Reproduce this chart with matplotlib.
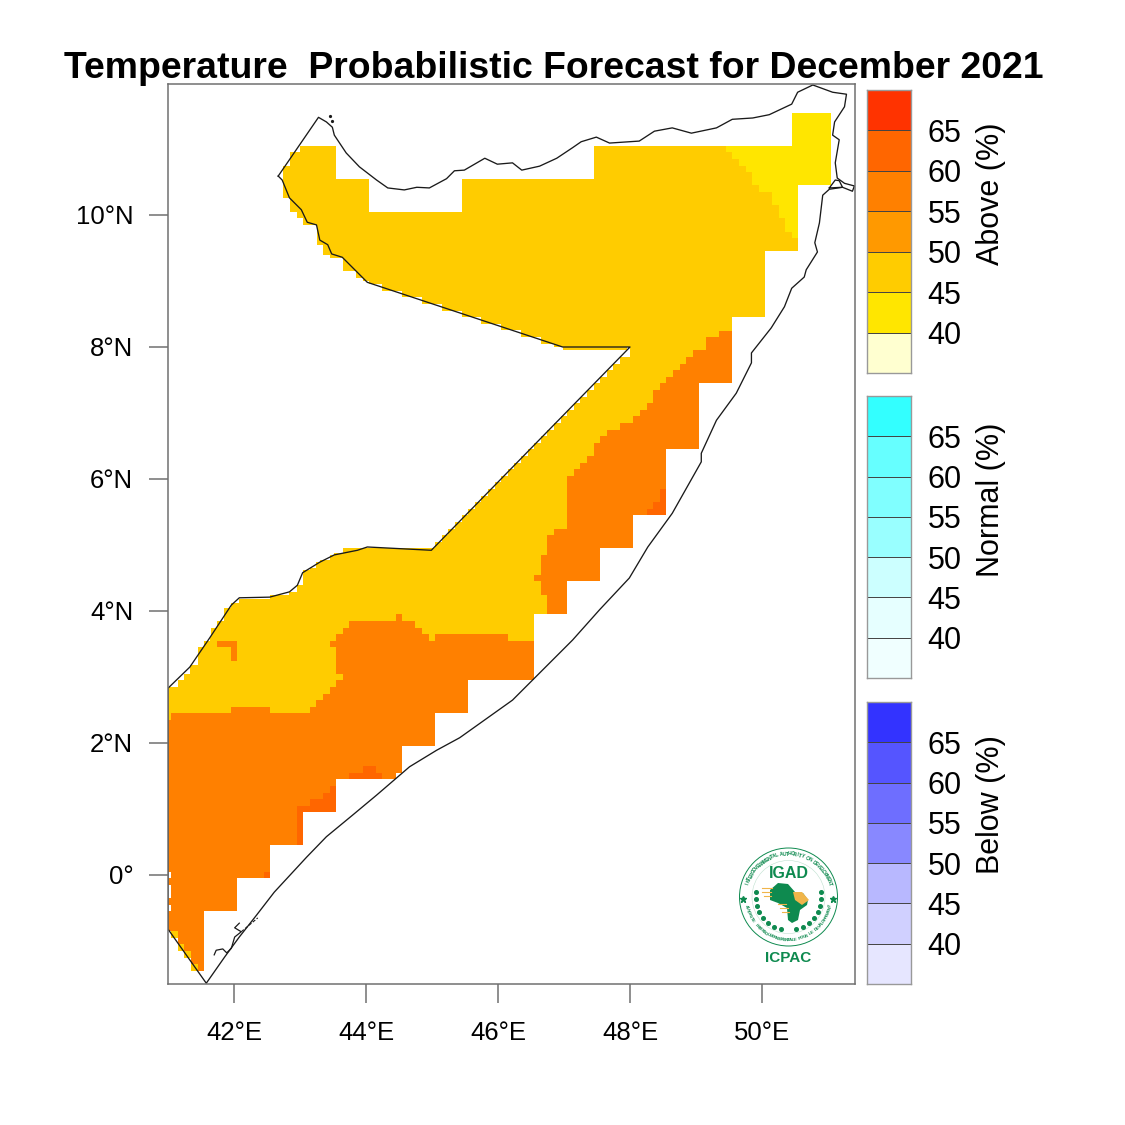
import numpy as np
import matplotlib
matplotlib.use("Agg")
import matplotlib.pyplot as plt
from matplotlib.patches import Circle, Polygon

plt.rcParams["font.family"] = ["Liberation Sans", "DejaVu Sans"]

# somalia outline
outline_lon = [42.67, 43.28, 43.40, 43.49, 43.52, 43.70, 43.90, 44.16, 44.33, 44.58, 44.77, 44.96, 45.22, 45.34,
               45.49, 45.80, 45.99, 46.22, 46.36, 46.63, 46.89, 47.13, 47.26, 47.49, 47.69, 48.14, 48.37, 48.64,
               48.93, 49.31, 49.55, 49.86, 50.11, 50.45, 50.54, 50.77, 51.07, 51.28, 51.25, 51.10, 51.07, 51.17,
               51.11, 51.14, 51.25, 51.40, 51.37, 51.22, 51.02, 50.92, 50.87, 50.80, 50.84, 50.67, 50.64, 50.45,
               50.34, 50.14, 49.84, 49.84, 49.61, 49.31, 49.08, 49.08, 48.64, 48.27, 47.99, 47.54, 47.13, 46.52,
               46.22, 45.42, 45.07, 44.66, 44.16, 43.80, 43.40, 43.10, 42.61, 42.34, 42.08, 41.86, 41.58, 41.0,
               41.0, 41.33, 41.63, 41.96, 42.08, 42.54, 42.84, 42.96, 43.04, 43.30, 43.52, 43.87, 44.02, 44.99,
               48.0, 46.98, 44.02, 43.64, 43.48, 43.42, 43.30, 43.25, 43.11, 43.02, 42.84, 42.73, 42.67]
outline_lat = [10.59, 11.48, 11.41, 11.33, 11.21, 10.94, 10.73, 10.53, 10.41, 10.38, 10.42, 10.41, 10.55, 10.67,
               10.68, 10.86, 10.77, 10.79, 10.68, 10.74, 10.86, 11.02, 11.11, 11.18, 11.09, 11.12, 11.27, 11.32,
               11.24, 11.32, 11.45, 11.47, 11.52, 11.68, 11.86, 11.97, 11.86, 11.83, 11.64, 11.41, 11.21, 11.14,
               10.79, 10.56, 10.48, 10.44, 10.36, 10.42, 10.39, 10.30, 9.88, 9.58, 9.44, 9.17, 9.06, 8.89,
               8.61, 8.29, 7.91, 7.76, 7.30, 6.89, 6.39, 6.26, 5.48, 4.97, 4.50, 4.02, 3.56, 2.95,
               2.65, 2.08, 1.89, 1.64, 1.21, 0.91, 0.58, 0.27, -0.26, -0.61, -0.94, -1.24, -1.64, -0.82,
               2.83, 3.15, 3.59, 4.09, 4.20, 4.21, 4.29, 4.39, 4.58, 4.74, 4.85, 4.92, 4.97, 4.92,
               8.0, 8.0, 8.98, 9.36, 9.41, 9.55, 9.62, 9.85, 9.89, 10.08, 10.26, 10.53, 10.59]
lagoon_lon = [51.02, 51.11, 51.17, 51.22, 51.02]
lagoon_lat = [10.41, 10.53, 10.52, 10.42, 10.41]
islets_lon = [41.70, 41.73, 41.83, 41.89, 41.96, 42.01, 42.11, 42.01, 42.08]
islets_lat = [-1.21, -1.14, -1.12, -1.18, -1.11, -0.94, -0.86, -0.80, -0.73]
reef_lon = [42.11, 42.36]
reef_lat = [-0.86, -0.65]
dots_lon = [43.46, 43.48]
dots_lat = [11.50, 11.42]

# the forecast cells share this southern edge
south_edge_lon = [46.55, 45.55, 45.55, 45.05, 45.05, 44.55, 44.55, 44.45, 44.45, 43.55, 43.55, 43.05, 43.05, 42.55,
                  42.55, 42.05, 42.05, 41.55, 41.55, 41.45, 41.05, 41.0,
                  41.0, 41.05, 41.05, 41.0, 41.0, 41.05, 41.05, 41.0, 41.0, 41.05, 41.05, 41.0]
south_edge_lat = [2.95, 2.95, 2.45, 2.45, 1.95, 1.95, 1.55, 1.55, 1.45, 1.45, 0.95, 0.95, 0.45, 0.45,
                  -0.05, -0.05, -0.55, -0.55, -1.45, -1.45, -0.85, -0.85,
                  -0.55, -0.55, -0.45, -0.45, -0.35, -0.35, -0.15, -0.15, -0.05, -0.05, 0.05, 0.05]

# 45-50 % class, whole area with values
amber_lon = [43.0, 43.55, 43.55, 44.05, 44.05, 45.45, 45.45, 47.45, 47.45, 50.45, 50.45, 51.05, 51.05, 50.55, 50.55,
             50.05, 50.05, 49.55, 49.55, 49.05, 49.05, 48.55, 48.55, 48.05, 48.05, 47.55, 47.55, 47.05, 47.05, 46.55,
             46.55] + south_edge_lon + [41.0, 41.33, 41.63, 41.96, 42.08, 42.46, 42.84, 42.96, 43.04, 43.30, 43.52,
             43.87, 44.05, 44.99, 48.0, 47.55, 46.98, 46.98, 44.05, 43.95, 43.85, 43.65, 43.65, 43.45, 43.26,
             43.26, 43.05, 42.95, 42.85, 42.75, 42.75, 42.85, 42.85, 43.0]
amber_lat = [11.05, 11.05, 10.55, 10.55, 10.05, 10.05, 10.55, 10.55, 11.05, 11.05, 11.55, 11.55, 10.45, 10.45, 9.45,
             9.45, 8.45, 8.45, 7.45, 7.45, 6.45, 6.45, 5.45, 5.45, 4.95, 4.95, 4.45, 4.45, 3.95, 3.95,
             2.95] + south_edge_lat + [2.85, 3.18, 3.62, 4.12, 4.18, 4.18, 4.29, 4.39, 4.62, 4.78, 4.88,
             4.95, 4.95, 4.95, 8.0, 7.95, 7.95, 8.0, 9.0, 9.05, 9.15, 9.25, 9.35, 9.4, 9.65,
             9.85, 9.85, 10.05, 10.15, 10.35, 10.75, 10.75, 10.95, 10.95]

# 40-45 % class in the north east
yellow_lon = [49.45, 50.45, 50.45, 51.05, 51.05, 50.55, 50.55, 50.45, 50.45, 50.35, 50.35, 50.25, 50.25, 50.15, 50.15,
              49.95, 49.95, 49.85, 49.85, 49.75, 49.75, 49.65, 49.65, 49.55, 49.55, 49.45]
yellow_lat = [11.05, 11.05, 11.55, 11.55, 10.45, 10.45, 9.65, 9.65, 9.75, 9.75, 9.95, 9.95, 10.15, 10.15, 10.35,
              10.35, 10.45, 10.45, 10.65, 10.65, 10.75, 10.75, 10.85, 10.85, 10.95, 10.95]

# 55-60 % class
orange_ne_lon = [49.55, 49.35, 49.35, 49.15, 49.15, 48.95, 48.95, 48.85, 48.85, 48.75, 48.75, 48.65, 48.65, 48.55, 48.55,
                 48.45, 48.45, 48.35, 48.35, 48.25, 48.25, 48.15, 48.15, 48.05, 48.05, 47.85, 47.85, 47.65, 47.65, 47.55,
                 47.55, 47.45, 47.45, 47.35, 47.35, 47.25, 47.25, 47.15, 47.15, 47.05, 47.05, 46.85, 46.85, 46.75, 46.75,
                 46.65, 46.65, 46.55, 46.55, 46.65, 46.65, 46.75, 46.75, 47.05, 47.05, 47.55, 47.55, 48.05, 48.05, 48.55,
                 48.55, 49.05, 49.05, 49.55]
orange_ne_lat = [8.25, 8.25, 8.15, 8.15, 7.95, 7.95, 7.85, 7.85, 7.75, 7.75, 7.65, 7.65, 7.55, 7.55, 7.45,
                 7.45, 7.35, 7.35, 7.15, 7.15, 7.05, 7.05, 6.95, 6.95, 6.85, 6.85, 6.75, 6.75, 6.65, 6.65,
                 6.55, 6.55, 6.35, 6.35, 6.25, 6.25, 6.15, 6.15, 6.05, 6.05, 5.25, 5.25, 5.15, 5.15, 4.85,
                 4.85, 4.55, 4.55, 4.45, 4.45, 4.25, 4.25, 3.95, 3.95, 4.45, 4.45, 4.95, 4.95, 5.45, 5.45,
                 6.45, 6.45, 7.45, 7.45]
orange_s_lon = [46.55, 46.15, 46.15, 45.05, 45.05, 44.95, 44.95, 44.85, 44.85, 44.75, 44.75, 44.55, 44.55, 44.45, 44.45,
                43.75, 43.75, 43.65, 43.65, 43.55, 43.55, 43.45, 43.45, 43.55, 43.55, 43.65, 43.65, 43.55, 43.55, 43.45,
                43.45, 43.35, 43.35, 43.25, 43.25, 43.15, 43.15, 42.55, 42.55, 41.95, 41.95, 41.05, 41.05,
                41.0] + south_edge_lon[::-1]
orange_s_lat = [3.55, 3.55, 3.65, 3.65, 3.55, 3.55, 3.65, 3.65, 3.75, 3.75, 3.85, 3.85, 3.95, 3.95, 3.85,
                3.85, 3.75, 3.75, 3.65, 3.65, 3.55, 3.55, 3.45, 3.45, 3.05, 3.05, 2.95, 2.95, 2.85, 2.85,
                2.75, 2.75, 2.65, 2.65, 2.55, 2.55, 2.45, 2.45, 2.55, 2.55, 2.45, 2.45, 2.35,
                2.35] + south_edge_lat[::-1]
orange_spot_lon = [41.75, 42.05, 42.05, 41.95, 41.95, 41.75]
orange_spot_lat = [3.55, 3.55, 3.25, 3.25, 3.45, 3.45]

# 60-65 % class, small patches
deep_a_lon = [48.45, 48.55, 48.55, 48.25, 48.25, 48.35, 48.35, 48.45]
deep_a_lat = [5.85, 5.85, 5.45, 5.45, 5.55, 5.55, 5.65, 5.65]
deep_b_lon = [43.75, 43.95, 43.95, 44.15, 44.15, 44.25, 44.25, 43.75]
deep_b_lat = [1.55, 1.55, 1.65, 1.65, 1.55, 1.55, 1.45, 1.45]
deep_c_lon = [43.45, 43.55, 43.55, 43.05, 43.05, 42.95, 42.95, 43.15, 43.15, 43.35, 43.35, 43.45]
deep_c_lat = [1.35, 1.35, 0.95, 0.95, 0.45, 0.45, 1.05, 1.05, 1.15, 1.15, 1.25, 1.25]
deep_d_lon = [42.45, 42.55, 42.55, 42.45]
deep_d_lat = [0.05, 0.05, -0.05, -0.05]

# colour bars
bar_levels = [35, 40, 45, 50, 55, 60, 65]
above_colors = ["#FFFFD0", "#FFE600", "#FFCC00", "#FF9900", "#FF8000", "#FF6600", "#FF3300"]
normal_colors = ["#F0FFFF", "#E6FFFF", "#CCFFFF", "#99FFFF", "#80FFFF", "#66FFFF", "#33FFFF"]
below_colors = ["#E6E6FF", "#D0D0FF", "#B8B8FF", "#8888FF", "#6E6EFF", "#5555FF", "#3333FF"]
bar_ticks = [40, 45, 50, 55, 60, 65]

lon_ticks = [42, 44, 46, 48, 50]
lat_ticks = [0, 2, 4, 6, 8, 10]
lon_labels = ["42°E", "44°E", "46°E", "48°E", "50°E"]
lat_labels = ["0°", "2°N", "4°N", "6°N", "8°N", "10°N"]

AMBER = "#FFCC00"
YELLOW = "#FFE600"
ORANGE = "#FF8000"
DEEP = "#FF6600"
GRAY = "#707070"
GREEN = "#0E8A4F"
S = 1125.0


def stairs(lon, lat):
    # the grid is 0.1 degree, so slanted edges of a polygon come out as steps
    xs, ys = [lon[0]], [lat[0]]
    for i in range(1, len(lon)):
        dx = lon[i] - lon[i - 1]
        dy = lat[i] - lat[i - 1]
        if abs(dx) > 0.001 and abs(dy) > 0.001:
            n = int(max(round(abs(dx) / 0.1), round(abs(dy) / 0.1), 1))
            for k in range(1, n):
                x = np.round((lon[i - 1] + dx * k / n - 0.05) / 0.1) * 0.1 + 0.05
                y = np.round((lat[i - 1] + dy * k / n - 0.05) / 0.1) * 0.1 + 0.05
                xs += [x, x]
                ys += [ys[-1], y]
            xs += [lon[i]]
            ys += [ys[-1]]
        xs.append(lon[i])
        ys.append(lat[i])
    return xs, ys


def axes_px(x0, y0, x1, y1):
    return fig.add_axes([x0 / S, 1 - y1 / S, (x1 - x0) / S, (y1 - y0) / S])


fig = plt.figure(figsize=(11.25, 11.25), dpi=100)
ax = axes_px(168, 84, 855, 984)

for lon, lat, col in [(amber_lon, amber_lat, AMBER), (yellow_lon, yellow_lat, YELLOW),
                      (orange_ne_lon, orange_ne_lat, ORANGE), (orange_s_lon, orange_s_lat, ORANGE),
                      (orange_spot_lon, orange_spot_lat, ORANGE), (deep_a_lon, deep_a_lat, DEEP),
                      (deep_b_lon, deep_b_lat, DEEP), (deep_c_lon, deep_c_lat, DEEP), (deep_d_lon, deep_d_lat, DEEP)]:
    xs, ys = stairs(lon, lat)
    ax.fill(xs, ys, color=col, lw=0)

ax.plot(outline_lon, outline_lat, color="#1A1A1A", lw=0.95)
ax.plot(lagoon_lon, lagoon_lat, color="#1A1A1A", lw=0.95)
ax.plot(islets_lon, islets_lat, color="#1A1A1A", lw=0.9)
ax.plot(reef_lon, reef_lat, color="#1A1A1A", lw=0.8, ls=(0, (3, 1.5)))
ax.plot(dots_lon, dots_lat, ls="none", marker="o", ms=1.3, color="#1A1A1A")

ax.set_xlim(41.0, 41.0 + 687 / 66)
ax.set_ylim(-109 / 66, 791 / 66)
ax.set_xticks(lon_ticks)
ax.set_xticklabels(lon_labels)
ax.set_yticks(lat_ticks)
ax.set_yticklabels(lat_labels)
ax.tick_params(length=13.5, width=1.1, color=GRAY, labelsize=18.5)
ax.tick_params(axis="x", pad=13.5)
ax.tick_params(axis="y", pad=11.5)
for sp in ax.spines.values():
    sp.set_color(GRAY)
    sp.set_linewidth(1.1)

# colour bars on the right
bars = [(90, 373, above_colors, "Above (%)", 194), (396, 678, normal_colors, "Normal (%)", 500),
        (702, 984, below_colors, "Below (%)", 805)]
for top, bottom, colors, name, name_y in bars:
    cax = axes_px(867, top, 911, bottom)
    cax.bar([0] * len(colors), [5] * len(colors), bottom=bar_levels, width=1, color=colors,
            edgecolor="#444444", linewidth=0.7)
    cax.set_xlim(-0.5, 0.5)
    cax.set_ylim(35, 70)
    cax.set_xticks([])
    cax.yaxis.tick_right()
    cax.set_yticks(bar_ticks)
    cax.set_yticklabels([str(t) for t in bar_ticks])
    cax.tick_params(length=0, labelsize=22, pad=12)
    for sp in cax.spines.values():
        sp.set_color("#999999")
        sp.set_linewidth(1.0)
    fig.text(991 / S, 1 - name_y / S, name, rotation=90, fontsize=22, ha="center", va="center")

fig.text(64 / S, 1 - 78 / S, "Temperature  Probabilistic Forecast for December 2021",
         fontsize=26.95, fontweight="bold", ha="left", va="baseline")

# IGAD / ICPAC logo, in pixel coordinates
lg = fig.add_axes([0, 0, 1, 1], facecolor="none")
lg.set_xlim(0, S)
lg.set_ylim(S, 0)
lg.axis("off")
cx, cy = 788.5, 897.0
lg.add_patch(Circle((cx, cy), 49, fill=False, ec=GREEN, lw=0.7))
lg.add_patch(Circle((cx, cy), 36.5, fill=False, ec="#BFE0CF", lw=0.4))
top_text = "INTERGOVERNMENTAL AUTHORITY ON DEVELOPMENT"
for i, ch in enumerate(top_text):
    a = np.radians(162 - i * 144 / (len(top_text) - 1))
    lg.text(cx + 43 * np.cos(a), cy - 43 * np.sin(a), ch, fontsize=3.6, color=GREEN, fontweight="bold",
            rotation=np.degrees(a) - 90, ha="center", va="center")
bottom_text = "AUTORITE INTERGOUVERNEMENTALE POUR LE DEVELOPPEMENT"
for i, ch in enumerate(bottom_text):
    a = np.radians(-168 + i * 156 / (len(bottom_text) - 1))
    lg.text(cx + 43 * np.cos(a), cy - 43 * np.sin(a), ch, fontsize=3.2, color=GREEN, fontweight="bold",
            rotation=np.degrees(a) + 90, ha="center", va="center")
lg.text(789, 873, "IGAD", fontsize=11.5, fontweight="bold", color=GREEN, ha="center", va="center")
lg.text(788, 958, "ICPAC", fontsize=11, fontweight="bold", color=GREEN, ha="center", va="center")
lg.plot([743, 833], [899, 899], ls="none", marker="*", ms=4.5, color=GREEN)
africa = [(770, 890), (778, 883), (788, 884), (795, 892), (803, 893), (808, 900), (807, 905), (800, 910),
          (798, 920), (792, 923), (788, 920), (787, 908), (778, 903), (770, 900)]
horn = [(793, 892), (802, 892), (809, 900), (802, 905), (795, 900)]
lg.add_patch(Polygon(africa, fc=GREEN, ec="none"))
lg.add_patch(Polygon(horn, fc="#F0B54A", ec="none"))
for y0, x0, x1 in [(888, 762, 772), (892, 762, 771), (896, 764, 771), (904, 778, 786), (908, 780, 788), (912, 782, 789)]:
    lg.plot([x0, x1], [y0, y0], color="#F0B54A", lw=0.8)
for side in [-1, 1]:
    a = np.radians(np.arange(172, 262, 12))
    lg.plot(cx + side * 33 * np.cos(a), cy - 33 * np.sin(a), ls="none", marker="o", ms=2.6, color=GREEN)

fig.savefig("out.png", dpi=100)
